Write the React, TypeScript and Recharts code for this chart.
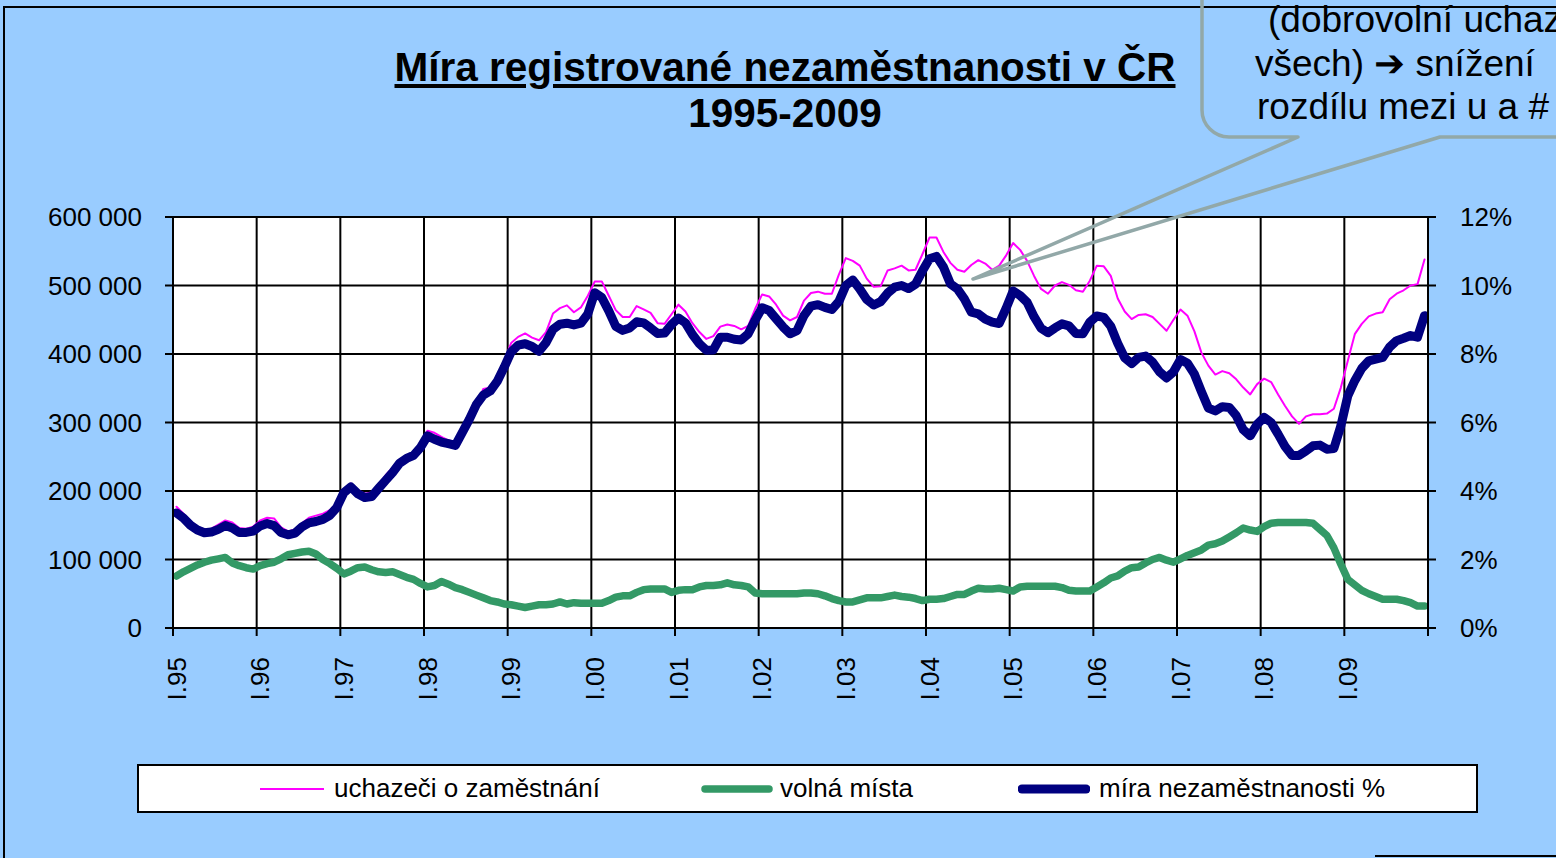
import { CartesianGrid, Line, LineChart, XAxis, YAxis } from "recharts";

// tick labels on the category axis (January of each year)
const yearLabels = [
  "I.95", "I.96", "I.97", "I.98", "I.99", "I.00", "I.01", "I.02",
  "I.03", "I.04", "I.05", "I.06", "I.07", "I.08", "I.09",
];

// uchazeči o zaměstnání, thousands, monthly I.95 – XII.09
const uchazeci = [
  177, 167, 156, 148, 144, 145, 151, 157, 154, 146, 145, 148,
  157, 161, 160, 147, 141, 144, 153, 161, 164, 167, 172, 182,
  202, 211, 201, 196, 198, 209, 223, 234, 243, 249, 255, 268,
  288, 285, 279, 274, 271, 293, 310, 324, 349, 351, 364, 390,
  416, 425, 430, 424, 420, 432, 459, 467, 471, 461, 468, 485,
  506, 506, 485, 464, 454, 454, 470, 465, 460, 445, 444, 458,
  472, 462, 445, 432, 422, 426, 440, 443, 441, 436, 441, 466,
  487, 484, 472, 456, 449, 454, 478, 489, 491, 488, 488, 516,
  540, 536, 529, 510, 498, 499, 522, 525, 529, 522, 523, 546,
  570, 570, 549, 533, 523, 520, 530, 537, 532, 523, 529, 544,
  562, 552, 536, 514, 495, 488, 500, 505, 501, 493, 491, 507,
  529, 528, 514, 481, 462, 451, 457, 458, 454, 444, 434, 450,
  465, 456, 433, 402, 383, 370, 375, 372, 363, 351, 341, 356,
  364, 359, 341, 324, 309, 298, 309, 312, 312, 313, 320, 351,
  390, 429, 444, 455, 459, 461, 480, 488, 493, 500, 502, 538,
];

// volná místa, thousands
const volnaMista = [
  76, 82, 87, 92, 96, 99, 101, 103, 95, 91, 88, 86,
  91, 94, 96, 101, 107, 109, 111, 112, 108, 100, 94, 87,
  79, 83, 88, 89, 85, 82, 81, 82, 78, 74, 71, 65,
  60, 62, 68, 64, 59, 56, 52, 48, 44, 40, 38, 35,
  34, 32, 30, 32, 34, 34, 35, 38, 35, 37, 36, 36,
  36, 36, 40, 45, 47, 47, 52, 56, 57, 57, 57, 52,
  55, 56, 56, 60, 62, 62, 63, 66, 63, 62, 60, 51,
  50, 50, 50, 50, 50, 50, 51, 51, 50, 47, 43, 40,
  38, 38, 41, 44, 44, 44, 46, 48, 46, 45, 43, 40,
  42, 42, 43, 46, 49, 49, 54, 58, 57, 57, 58, 56,
  54, 60, 61, 61, 61, 61, 61, 59, 55, 54, 54, 54,
  60, 66, 73, 76, 83, 88, 89, 95, 100, 103, 99, 96,
  101, 106, 110, 114, 121, 123, 127, 133, 139, 146, 143, 141,
  148, 153, 154, 154, 154, 154, 154, 153, 144, 135, 117, 93,
  71, 63, 55, 50, 46, 42, 42, 42, 40, 37, 32, 32,
];

// míra nezaměstnanosti, %
const miraPct = [
  3.36, 3.21, 3.0, 2.86, 2.78, 2.8, 2.88, 2.99, 2.92, 2.79, 2.79, 2.83,
  2.98, 3.05, 2.99, 2.79, 2.72, 2.77, 2.95, 3.07, 3.11, 3.17, 3.29, 3.52,
  3.95, 4.12, 3.92, 3.81, 3.84, 4.08, 4.31, 4.54, 4.81, 4.95, 5.04, 5.27,
  5.61, 5.51, 5.43, 5.38, 5.33, 5.71, 6.09, 6.52, 6.8, 6.92, 7.2, 7.61,
  8.06, 8.26, 8.3, 8.22, 8.08, 8.33, 8.72, 8.87, 8.9, 8.85, 8.9, 9.17,
  9.79, 9.65, 9.26, 8.81, 8.69, 8.76, 8.94, 8.91, 8.76, 8.6, 8.61, 8.86,
  9.05, 8.91, 8.57, 8.3, 8.11, 8.12, 8.49, 8.49, 8.43, 8.41, 8.59, 8.99,
  9.35, 9.27, 9.03, 8.79, 8.59, 8.68, 9.12, 9.4, 9.44, 9.36, 9.3, 9.53,
  10.0, 10.16, 9.9, 9.59, 9.43, 9.53, 9.78, 9.95, 10.0, 9.91, 10.04, 10.43,
  10.78, 10.85, 10.54, 10.05, 9.9, 9.61, 9.22, 9.17, 9.02, 8.93, 8.89, 9.34,
  9.84, 9.71, 9.51, 9.09, 8.75, 8.62, 8.76, 8.88, 8.82, 8.6, 8.59, 8.93,
  9.11, 9.07, 8.81, 8.31, 7.89, 7.72, 7.9, 7.94, 7.76, 7.48, 7.3, 7.48,
  7.84, 7.73, 7.41, 6.9, 6.42, 6.34, 6.46, 6.44, 6.2, 5.79, 5.61, 5.95,
  6.15, 6.0, 5.66, 5.3, 5.04, 5.04, 5.17, 5.32, 5.34, 5.22, 5.24, 5.9,
  6.78, 7.22, 7.58, 7.8, 7.85, 7.9, 8.2, 8.39, 8.46, 8.54, 8.49, 9.12,
];

const leftTicks = [0, 100, 200, 300, 400, 500, 600];
const rightTicks = [0, 2, 4, 6, 8, 10, 12];

const calloutLines = ["(dobrovolní uchaz", "všech) \u2794 snížení", "rozdílu mezi u a #"];

const FONT = "'Liberation Sans', Arial, sans-serif";
const BG = "#99CCFF";

const series = [
  { key: "uchazeci", name: "uchazeči o zaměstnání", color: "#FF00FF", width: 2, axis: "left" },
  { key: "volna", name: "volná místa", color: "#339966", width: 7.5, axis: "left" },
  { key: "mira", name: "míra nezaměstnanosti %", color: "#000080", width: 9, axis: "right" },
];

// category slot for month i is [i, i+1]; point sits in the middle
const data = uchazeci.map((u, i) => ({
  x: i + 0.5,
  uchazeci: u,
  volna: volnaMista[i],
  mira: miraPct[i],
}));

const monthTicks = [...yearLabels.map((_, i) => i * 12), yearLabels.length * 12];

const formatThousands = (v: number) => (v === 0 ? "0" : `${v}\u00a0000`);

function YearTick({ x, y, payload }: any) {
  const label = yearLabels[payload.value / 12];
  if (!label) return <g />;
  const cx = x + 3.5; // centred in the January slot
  return (
    <text
      x={cx}
      y={y}
      transform={`rotate(-90 ${cx} ${y})`}
      textAnchor="end"
      dominantBaseline="central"
      fontSize={26}
      fontFamily={FONT}
      fill="#000"
    >
      {label}
    </text>
  );
}

const legendPos = [
  { sample: 121, text: 195 },
  { sample: 566, text: 641 },
  { sample: 883, text: 960 },
];

function ChartLegend() {
  return (
    <div
      style={{
        position: "absolute",
        left: 137,
        top: 764,
        width: 1341,
        height: 49,
        boxSizing: "border-box",
        border: "2px solid #000",
        background: "#fff",
      }}
    >
      {series.map((s, i) => (
        <div key={s.key}>
          <svg
            width={72}
            height={20}
            style={{ position: "absolute", left: legendPos[i].sample - 4, top: 12 }}
          >
            <line
              x1={4}
              x2={68}
              y1={11}
              y2={11}
              stroke={s.color}
              strokeWidth={s.width}
              strokeLinecap={s.width > 3 ? "round" : "butt"}
            />
          </svg>
          <span
            style={{
              position: "absolute",
              left: legendPos[i].text,
              top: 7,
              fontSize: 26,
              lineHeight: "30px",
              color: "#000",
              whiteSpace: "nowrap",
            }}
          >
            {s.name}
          </span>
        </div>
      ))}
    </div>
  );
}

export default function App() {
  return (
    <div
      style={{
        position: "absolute",
        left: 0,
        top: 0,
        width: 1556,
        height: 858,
        overflow: "hidden",
        background: BG,
        fontFamily: FONT,
      }}
    >
      <LineChart
        width={1556}
        height={858}
        data={data}
        margin={{ top: 217, right: 68, bottom: 170, left: 113 }}
      >
        <CartesianGrid
          yAxisId="left"
          stroke="#000"
          strokeWidth={2}
          fill="#fff"
          fillOpacity={1}
        />
        <XAxis
          type="number"
          dataKey="x"
          domain={[0, 180]}
          ticks={monthTicks}
          interval={0}
          height={60}
          tickSize={8}
          tickMargin={21}
          axisLine={{ stroke: "#000", strokeWidth: 2 }}
          tickLine={{ stroke: "#000", strokeWidth: 2 }}
          tick={<YearTick />}
        />
        <YAxis
          yAxisId="left"
          orientation="left"
          domain={[0, 600]}
          ticks={leftTicks}
          interval={0}
          width={60}
          tickSize={8}
          tickMargin={23}
          tickFormatter={formatThousands}
          axisLine={{ stroke: "#000", strokeWidth: 2 }}
          tickLine={{ stroke: "#000", strokeWidth: 2 }}
          tick={{ fill: "#000", fontSize: 26, fontFamily: FONT }}
        />
        <YAxis
          yAxisId="right"
          orientation="right"
          domain={[0, 12]}
          ticks={rightTicks}
          interval={0}
          width={60}
          tickSize={8}
          tickMargin={24}
          tickFormatter={(v: number) => `${v}%`}
          axisLine={{ stroke: "#000", strokeWidth: 2 }}
          tickLine={{ stroke: "#000", strokeWidth: 2 }}
          tick={{ fill: "#000", fontSize: 26, fontFamily: FONT }}
        />
        {series.map((s) => (
          <Line
            key={s.key}
            yAxisId={s.axis}
            type="linear"
            dataKey={s.key}
            name={s.name}
            stroke={s.color}
            strokeWidth={s.width}
            strokeLinejoin="round"
            strokeLinecap="round"
            dot={false}
            activeDot={false}
            isAnimationActive={false}
          />
        ))}
      </LineChart>

      <div
        style={{
          position: "absolute",
          left: 285,
          top: 44,
          width: 1000,
          textAlign: "center",
          fontSize: 40.5,
          fontWeight: "bold",
          lineHeight: "46px",
          color: "#000",
        }}
      >
        <span style={{ textDecoration: "underline" }}>
          Míra registrované nezaměstnanosti v ČR
        </span>
        <br />
        1995-2009
      </div>

      <ChartLegend />

      <svg
        width={1556}
        height={858}
        style={{ position: "absolute", left: 0, top: 0, pointerEvents: "none" }}
      >
        <path d="M4 858 V7 H1556" stroke="#000" strokeWidth={2} fill="none" />
        <line x1={1375} y1={856} x2={1556} y2={856} stroke="#000" strokeWidth={2} />
        <path
          d="M1202 -10 V110 A27 27 0 0 0 1229 137 H1298 L973 279 L1440 137 H1580"
          stroke="#92A8A8"
          strokeWidth={3.5}
          strokeLinejoin="round"
          strokeLinecap="round"
          fill="none"
        />
      </svg>

      {calloutLines.map((t, i) => (
        <div
          key={i}
          style={{
            position: "absolute",
            left: [1268, 1255, 1257][i],
            top: -2 + i * 43.5,
            fontSize: 37,
            lineHeight: "43.5px",
            whiteSpace: "pre",
            color: "#000",
          }}
        >
          {t}
        </div>
      ))}
    </div>
  );
}
